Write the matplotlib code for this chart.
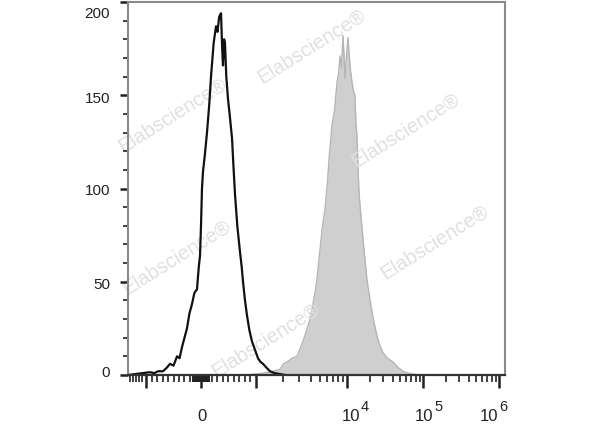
import numpy as np
import matplotlib
matplotlib.use("Agg")
import matplotlib.pyplot as plt
import matplotlib.transforms as mtransforms
from matplotlib.ticker import FixedLocator

plt.rcParams['font.family'] = ['Liberation Sans', 'DejaVu Sans']

# unstained control (black outline), intensity vs count
black_x = [-1577, -927, -850, -780, -691, -620, -564, -500, -436, -390, -345, -300,
           -255, -210, -164, -120, -73, -40, -18, 0, 18, 36, 70, 109, 150, 182, 230,
           273, 300, 330, 364, 385, 400, 420, 436, 460, 491, 520, 564, 590, 618, 660,
           709, 740, 764, 800, 836, 880, 927, 1000, 1052, 1120, 1194, 1300, 1425, 1600,
           1835, 2100]
black_y = [0, 1.5, 1, 2, 2, 4, 6, 5, 10, 9, 15, 20,
           25, 33, 38, 44, 46, 58, 64, 80, 100, 109, 118, 130, 145, 160, 178,
           187, 184, 192, 194, 175, 166, 180, 178, 160, 148, 140, 127, 112, 97, 80,
           66, 58, 50, 40, 32, 24, 18, 12, 9, 7, 6, 4, 2, 1,
           0.5, 0]

# stained sample (grey filled)
gray_x = [836, 1200, 1500, 1835, 2000, 2190, 2500, 2820, 3050, 3280, 3600, 3920, 4300,
          4680, 5000, 5320, 5700, 6030, 6400, 6840, 7300, 7770, 8100, 8380, 8700, 9040,
          9300, 9500, 9900, 10300, 11000, 11630, 12200, 12740, 13100, 13540, 14000,
          14380, 14830, 16500, 18330, 19800, 21300, 23000, 24800, 27000, 29700, 34000,
          40300, 47000, 54600, 63000, 74000, 90000, 1200000]
gray_y = [0, 1, 2, 3, 6, 7, 9, 10, 14, 18, 24, 30, 40,
          51, 65, 78, 88, 100, 118, 134, 142, 157, 162, 171, 165, 182,
          170, 159, 172, 181, 165, 157, 152, 150, 135, 128, 110,
          98, 91, 70, 51, 42, 34, 27, 21, 16, 12, 9,
          7, 4, 2, 1, 0.5, 0, 0]

major_ticks = [-1000, 0, 1000, 1e4, 1e5, 1e6]
decade_ticks = [1e4, 1e5, 1e6]
decade_exps = ['4', '5', '6']
decade_dx = [4, 1, -10]  # px, label drift in the scan
y_ticks = [0, 50, 100, 150, 200]
y_label_shift = [-4, 1, 0, 1, 9]  # px down, as in the scan

watermark_px = [(312, 46), (173, 115), (406, 130), (177, 257), (435, 242), (266, 340)]


def fwd(x):
    x = np.asarray(x, dtype=float)
    a = np.abs(x)
    out = np.where(a <= 1000, a / 1000 * 55,
                   np.where(a <= 1e4, 55 + 91 * np.log10(np.maximum(a, 1000) / 1000),
                            146 + 76 * np.log10(np.maximum(a, 1e4) / 1e4)))
    return np.sign(x) * out


def inv(u):
    u = np.asarray(u, dtype=float)
    a = np.abs(u)
    out = np.where(a <= 55, a / 55 * 1000,
                   np.where(a <= 146, 1000 * 10 ** ((np.minimum(a, 146) - 55) / 91),
                            1e4 * 10 ** ((np.maximum(a, 146) - 146) / 76)))
    return np.sign(u) * out


fig = plt.figure(figsize=(6, 4.27), dpi=100)
ax = fig.add_axes([128 / 600, 51 / 427, 377 / 600, 373 / 427])
ax.set_xscale('function', functions=(fwd, inv))
ax.set_xlim(-1577, 1.2e6)
ax.set_ylim(0, 200)

ax.fill_between(gray_x, gray_y, 0, color='#cfcfcf', lw=0, zorder=1)
ax.plot(gray_x, gray_y, color='#b5b5b5', lw=1, zorder=1.1)

for px, py in watermark_px:
    ax.text((px - 128) / 377, (376 - py) / 373, 'Elabscience\u00ae', transform=ax.transAxes,
            rotation=32, ha='center', va='center', fontsize=14.5, color='#e0e0e0',
            zorder=1.5)

ax.plot(black_x, black_y, color='#111111', lw=1.6, zorder=2)

# ticks
minor = list(range(-1500, -100, 100)) + list(range(200, 1000, 100))
minor += list(range(-150, 151, 10))
for dec in [1000, 1e4, 1e5]:
    minor += [k * dec for k in range(2, 10)]
minor = [m for m in minor if m not in major_ticks]
ax.set_xticks(major_ticks)
ax.set_xticklabels([''] * len(major_ticks))
ax.xaxis.set_minor_locator(FixedLocator(minor))
ax.set_yticks(y_ticks)
ax.yaxis.set_minor_locator(FixedLocator(range(10, 200, 10)))

ax.tick_params(axis='x', which='major', direction='out', length=9, width=1.8, color='#222222')
ax.tick_params(axis='x', which='minor', direction='out', length=5, width=1.2, color='#222222')
ax.tick_params(axis='y', which='major', direction='out', length=6, width=1.8,
               color='#222222', pad=7, labelsize=11, labelcolor='#222222')
ax.tick_params(axis='y', which='minor', direction='out', length=3.5, width=1.2, color='#222222')
for lbl, s in zip(ax.get_yticklabels(), y_label_shift):
    lbl.set_transform(lbl.get_transform() +
                      mtransforms.ScaledTranslation(0, -s / 100, fig.dpi_scale_trans))

# x labels: "0" and 10^n with big superscripts, baseline ~45 px under the axis
trans = ax.get_xaxis_transform()
ax.text(0, 0, '0', transform=mtransforms.offset_copy(trans, fig, x=1, y=-45, units='dots'),
        ha='center', va='baseline', fontsize=12, color='#222222')
for xv, e, dx in zip(decade_ticks, decade_exps, decade_dx):
    ax.text(xv, 0, '10', transform=mtransforms.offset_copy(trans, fig, x=dx, y=-45, units='dots'),
            ha='center', va='baseline', fontsize=12, color='#222222', clip_on=False)
    ax.text(xv, 0, e, transform=mtransforms.offset_copy(trans, fig, x=dx + 10, y=-35, units='dots'),
            ha='left', va='baseline', fontsize=10.5, color='#222222', clip_on=False)

for side in ['left', 'top', 'right']:
    ax.spines[side].set_color('#8a8a8a')
    ax.spines[side].set_linewidth(1.5)
ax.spines['bottom'].set_color('#333333')
ax.spines['bottom'].set_linewidth(1.6)

fig.savefig('out.png', dpi=100)
